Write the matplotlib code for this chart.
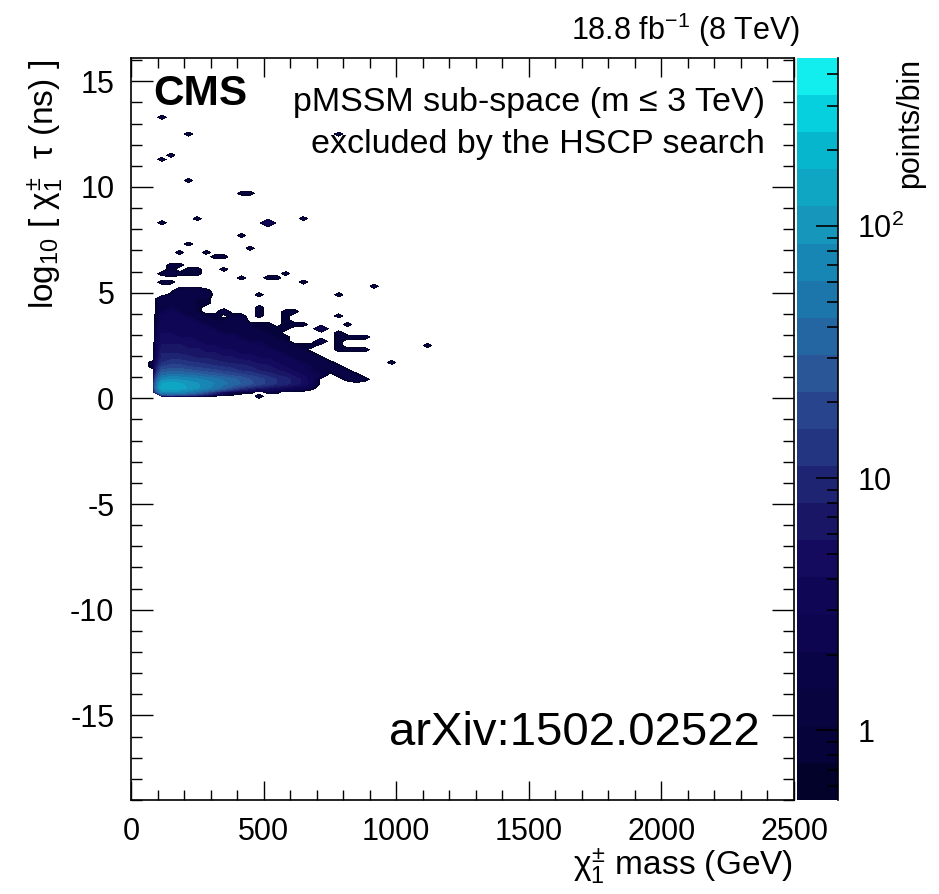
import numpy as np
import matplotlib
matplotlib.use('Agg')
import matplotlib.pyplot as plt
from matplotlib.colors import ListedColormap, BoundaryNorm

plt.rcParams['font.family'] = ['Liberation Sans', 'DejaVu Sans']
plt.rcParams['mathtext.fontset'] = 'custom'
plt.rcParams['mathtext.rm'] = 'Liberation Sans'
plt.rcParams['mathtext.it'] = 'Liberation Sans'
plt.rcParams['mathtext.bf'] = 'Liberation Sans:bold'
plt.rcParams['axes.unicode_minus'] = False

# histogram binning: 75 mass bins over 0-2500 GeV, 0.2 wide bins in log10(tau) over -19..16
x_edges = np.linspace(0, 2500, 76)
y_edges = np.linspace(-19, 16, 176)

# dense region, columns start at mass bin centre 83.3 GeV, rows from log10(tau)=6.9 down to 0.1
blob_x_first = 83.3
blob_y_top = 6.9
blob_rows = [
    [0, 0, 0, 1, 0, 0, 1, 0, 0, 0, 0, 0, 0, 0, 0, 0, 0, 0, 0, 0, 0, 0, 0, 0, 0, 0],  # 6.9
    [0, 0, 0, 0, 0, 0, 0, 1, 1, 0, 0, 0, 0, 0, 0, 0, 0, 0, 0, 0, 0, 0, 0, 0, 0, 0],  # 6.7
    [0, 0, 0, 0, 0, 0, 0, 0, 0, 0, 0, 0, 0, 0, 0, 0, 0, 0, 0, 0, 0, 0, 0, 0, 0, 0],  # 6.5
    [0, 0, 1, 1, 0, 0, 0, 0, 0, 0, 0, 0, 0, 0, 0, 0, 0, 0, 0, 0, 0, 0, 0, 0, 0, 0],  # 6.3
    [0, 0, 1, 0, 1, 1, 0, 0, 1, 0, 0, 0, 0, 0, 0, 0, 0, 0, 0, 0, 0, 0, 0, 0, 0, 0],  # 6.1
    [0, 1, 2, 1, 1, 1, 0, 0, 0, 0, 0, 0, 0, 0, 0, 1, 0, 0, 0, 0, 0, 0, 0, 0, 0, 0],  # 5.9
    [0, 0, 0, 0, 0, 0, 0, 0, 0, 0, 1, 0, 0, 1, 1, 0, 0, 0, 0, 0, 0, 0, 0, 0, 0, 0],  # 5.7
    [0, 1, 1, 0, 0, 0, 0, 0, 0, 0, 0, 0, 0, 0, 0, 0, 0, 1, 0, 0, 0, 0, 0, 0, 0, 0],  # 5.5
    [0, 0, 0, 0, 0, 0, 0, 0, 0, 0, 0, 0, 0, 0, 0, 0, 0, 0, 0, 0, 0, 0, 0, 0, 0, 1],  # 5.3
    [0, 0, 0, 2, 2, 2, 1, 0, 0, 0, 0, 0, 0, 0, 0, 0, 0, 0, 0, 0, 0, 0, 0, 0, 0, 0],  # 5.1
    [0, 0, 1, 2, 2, 2, 2, 0, 0, 0, 0, 0, 1, 0, 0, 0, 0, 0, 0, 0, 0, 1, 0, 0, 0, 0],  # 4.9
    [0, 2, 2, 2, 2, 1, 1, 0, 0, 0, 0, 0, 0, 0, 0, 0, 0, 0, 0, 0, 0, 0, 0, 0, 0, 0],  # 4.7
    [0, 2, 2, 2, 2, 1, 1, 0, 0, 0, 0, 0, 0, 0, 0, 0, 0, 0, 0, 0, 0, 0, 0, 0, 0, 0],  # 4.5
    [0, 2, 2, 2, 2, 1, 0, 0, 0, 0, 0, 0, 1, 0, 0, 0, 0, 0, 0, 0, 0, 0, 0, 0, 0, 0],  # 4.3
    [0, 2, 3, 2, 2, 1, 0, 0, 2, 0, 0, 0, 1, 0, 0, 1, 1, 0, 0, 0, 0, 0, 0, 0, 0, 0],  # 4.1
    [0, 3, 3, 3, 2, 2, 1, 1, 0, 1, 1, 0, 1, 0, 0, 1, 0, 0, 0, 0, 0, 1, 0, 0, 0, 0],  # 3.9
    [0, 3, 3, 3, 3, 2, 2, 1, 1, 2, 2, 0, 0, 0, 0, 1, 0, 0, 0, 0, 0, 0, 0, 0, 0, 0],  # 3.7
    [0, 3, 4, 3, 3, 3, 2, 2, 2, 2, 2, 1, 1, 1, 0, 1, 1, 1, 0, 0, 0, 0, 1, 0, 0, 0],  # 3.5
    [0, 4, 4, 4, 3, 3, 3, 2, 2, 2, 2, 2, 1, 1, 1, 1, 0, 0, 0, 3, 0, 0, 0, 0, 0, 0],  # 3.3
    [0, 4, 4, 4, 4, 3, 3, 3, 2, 2, 2, 2, 2, 1, 1, 0, 0, 0, 0, 0, 0, 1, 0, 0, 0, 0],  # 3.1
    [0, 5, 5, 4, 4, 4, 3, 3, 3, 3, 2, 2, 2, 2, 1, 1, 0, 0, 0, 0, 0, 1, 1, 1, 1, 0],  # 2.9
    [0, 5, 5, 5, 5, 4, 4, 3, 3, 3, 3, 2, 2, 2, 2, 1, 0, 0, 0, 2, 0, 1, 0, 0, 0, 0],  # 2.7
    [0, 6, 6, 6, 5, 5, 4, 4, 4, 3, 3, 3, 3, 2, 2, 2, 1, 1, 1, 0, 0, 1, 0, 0, 0, 0],  # 2.5
    [0, 7, 7, 7, 6, 6, 5, 5, 4, 4, 4, 3, 3, 3, 2, 2, 2, 1, 0, 0, 0, 1, 1, 1, 1, 0],  # 2.3
    [0, 8, 8, 8, 7, 7, 6, 6, 5, 5, 4, 4, 4, 3, 3, 2, 2, 2, 1, 0, 0, 0, 0, 0, 0, 0],  # 2.1
    [0, 9, 10, 10, 9, 8, 8, 7, 6, 6, 5, 5, 4, 4, 3, 3, 2, 2, 2, 1, 0, 0, 0, 0, 0, 0],  # 1.9
    [1, 11, 13, 13, 12, 11, 10, 9, 8, 7, 7, 6, 5, 5, 4, 3, 3, 2, 2, 2, 1, 0, 0, 0, 0, 0],  # 1.7
    [1, 16, 18, 18, 16, 14, 13, 12, 11, 10, 9, 8, 7, 6, 5, 4, 3, 3, 2, 2, 2, 1, 0, 0, 0, 0],  # 1.5
    [0, 24, 28, 27, 25, 22, 19, 17, 15, 13, 11, 10, 8, 7, 6, 5, 4, 3, 2, 2, 1, 2, 1, 0, 0, 0],  # 1.3
    [0, 40, 48, 46, 42, 37, 32, 28, 24, 20, 17, 15, 12, 10, 8, 7, 5, 4, 3, 2, 0, 1, 2, 1, 0, 0],  # 1.1
    [0, 70, 85, 80, 72, 64, 56, 48, 40, 34, 28, 22, 18, 14, 11, 9, 7, 5, 3, 0, 0, 0, 1, 2, 1, 0],  # 0.9
    [0, 120, 140, 125, 105, 88, 74, 60, 48, 38, 30, 24, 18, 14, 11, 9, 7, 5, 3, 0, 0, 0, 0, 0, 0, 0],  # 0.7
    [0, 140, 160, 140, 115, 90, 70, 50, 35, 22, 14, 10, 7, 6, 5, 4, 3, 3, 1, 0, 0, 0, 0, 0, 0, 0],  # 0.5
    [0, 70, 80, 70, 55, 40, 25, 12, 5, 2, 1, 1, 0, 1, 1, 0, 0, 0, 0, 0, 0, 0, 0, 0, 0, 0],  # 0.3
    [0, 0, 0, 0, 0, 0, 0, 0, 0, 0, 0, 0, 1, 0, 0, 0, 0, 0, 0, 0, 0, 0, 0, 0, 0, 0],  # 0.1
]

# isolated filled bins outside the dense region: mass (GeV), log10(tau), points
iso_mass = [116.7, 216.7, 783.3, 150.0, 116.7, 216.7, 416.7, 450.0, 116.7, 250.0,
            516.7, 650.0, 416.7, 216.7, 450.0, 983.3, 1116.7]
iso_logtau = [13.3, 12.5, 12.5, 11.5, 11.3, 10.3, 9.7, 9.7, 8.3, 8.5,
              8.3, 8.5, 7.7, 7.3, 7.1, 1.7, 2.5]
iso_points = [1, 1, 1, 1, 1, 1, 1, 1, 1, 1, 4, 1, 1, 1, 1, 1, 1]

# ROOT-like palette, 20 bands from dark navy to cyan
band_colors = ['#03022b', '#05033a', '#070440', '#090446', '#0d054f',
               '#100656', '#140a5e', '#1a1666', '#1e2472', '#233480',
               '#27448c', '#2a5697', '#2466a2', '#1c76ac', '#1886b4',
               '#1596ba', '#0ea6c2', '#05b6cc', '#06d0de', '#12eeee']
z_min, z_max = 0.53, 465.0

H = np.zeros((len(x_edges) - 1, len(y_edges) - 1))
x_w = x_edges[1] - x_edges[0]
y_w = y_edges[1] - y_edges[0]
for r, row in enumerate(blob_rows):
    yv = blob_y_top - 0.2 * r
    iy = int(np.floor((yv - y_edges[0]) / y_w))
    for c, n in enumerate(row):
        xv = blob_x_first + x_w * c
        ix = int(np.floor(xv / x_w))
        H[ix, iy] += n
for xv, yv, n in zip(iso_mass, iso_logtau, iso_points):
    H[int(np.floor(xv / x_w)), int(np.floor((yv - y_edges[0]) / y_w))] += n

xc = 0.5 * (x_edges[1:] + x_edges[:-1])
yc = 0.5 * (y_edges[1:] + y_edges[:-1])

W, Hpx = 939, 894
fig = plt.figure(figsize=(W / 100, Hpx / 100), dpi=100)
ax = fig.add_axes([131 / W, 1 - 800 / Hpx, (794 - 131) / W, (800 - 58) / Hpx])
cax = fig.add_axes([797 / W, 1 - 800 / Hpx, 41 / W, (800 - 58) / Hpx])

levels = np.logspace(np.log10(z_min), np.log10(z_max), len(band_colors) + 1)
cmap = ListedColormap(band_colors)
norm = BoundaryNorm(levels, cmap.N)
ax.contourf(xc, yc, H.T, levels=levels, cmap=cmap, norm=norm)

ax.set_xlim(0, 2500)
ax.set_ylim(-19, 16.1)
ax.set_xticks(np.arange(0, 2501, 500))
ax.set_xticks(np.arange(0, 2501, 100), minor=True)
ax.set_yticks(np.arange(-15, 16, 5))
ax.set_yticks(np.arange(-19, 17, 1), minor=True)
ax.tick_params(which='both', direction='in', top=True, right=True, labelsize=22, width=1)
ax.tick_params(axis='x', which='major', length=14, pad=12)
ax.tick_params(axis='x', which='minor', length=7)
ax.tick_params(axis='y', which='major', length=16, pad=12)
ax.tick_params(axis='y', which='minor', length=8)
for s in ax.spines.values():
    s.set_linewidth(1.2)

# palette axis
for lo, hi, col in zip(levels[:-1], levels[1:], band_colors):
    cax.axhspan(lo, hi, color=col, lw=0)
cax.set_yscale('log')
cax.set_ylim(z_min, z_max)
cax.set_xlim(0, 1)
cax.set_xticks([])
for side in ['left', 'top', 'bottom']:
    cax.spines[side].set_visible(False)
cax.spines['right'].set_linewidth(1.2)
cax.yaxis.tick_right()
cax.set_yticks([1, 10, 100], labels=['1', '10', '10$^2$'])
cax.set_yticks([0.6, 0.7, 0.8, 0.9, 2, 3, 4, 5, 6, 7, 8, 9,
                20, 30, 40, 50, 60, 70, 80, 90, 200, 300, 400], minor=True)
cax.yaxis.set_minor_formatter(plt.NullFormatter())
cax.tick_params(which='both', direction='in', width=1.2, labelsize=22, pad=14)
cax.tick_params(which='major', length=16)
cax.tick_params(which='minor', length=8)

fig.text(800 / W, 1 - 30 / Hpx, r'18.8 fb$^{-1}$ (8 TeV)', ha='right', va='center', fontsize=22)
fig.text(153 / W, 1 - 94 / Hpx, 'CMS', ha='left', va='center', fontsize=30.5, fontweight='bold')
fig.text(765 / W, 1 - 103 / Hpx, 'pMSSM sub-space (m \u2264 3 TeV)', ha='right', va='center', fontsize=24.5)
fig.text(765 / W, 1 - 145 / Hpx, 'excluded by the HSCP search', ha='right', va='center', fontsize=24.5)
fig.text(760 / W, 1 - 733 / Hpx, 'arXiv:1502.02522', ha='right', va='center', fontsize=34)
fig.text(793 / W, 1 - 866 / Hpx, r'$\chi^{\pm}_{1}$ mass (GeV)', ha='right', va='center', fontsize=24)
fig.text(45 / W, 1 - 60 / Hpx, r'log$_{10}$ [ $\chi^{\pm}_{1}$  $\tau$ (ns) ]', rotation=90,
         ha='center', va='top', fontsize=24)
fig.text(910 / W, 1 - 58 / Hpx, 'points/bin', rotation=90, ha='center', va='top', fontsize=22)

fig.savefig('out.png', dpi=100)
